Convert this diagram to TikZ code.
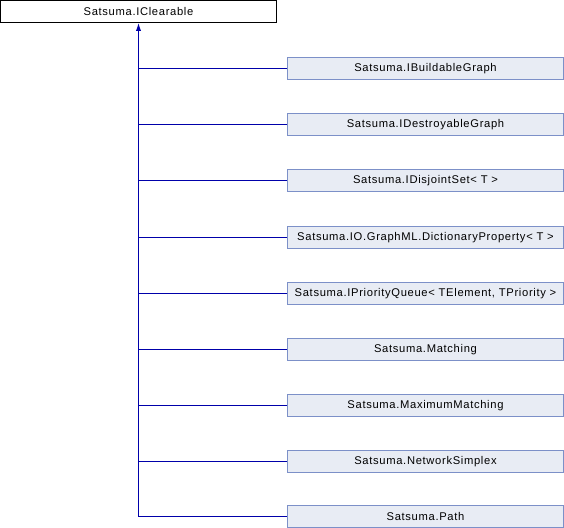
\documentclass[tikz,border=0pt]{standalone}
\usepackage{fontspec}
\setmainfont{Liberation Sans}[LetterSpace=6]
\usetikzlibrary{arrows.meta}
\definecolor{edgeblue}{RGB}{0,0,170}
\definecolor{boxfill}{RGB}{232,236,244}
\definecolor{boxline}{RGB}{124,144,200}
\definecolor{cornergray}{RGB}{150,160,180}
\begin{document}
\begin{tikzpicture}[x=0.75pt,y=-0.75pt,
  rootbox/.style={draw=black,fill=white,minimum width=276*0.75pt,minimum height=22*0.75pt,inner sep=0pt,font=\fontsize{8.4pt}{10pt}\selectfont,line width=0.75pt},
  childbox/.style={draw=boxline,fill=boxfill,minimum width=276*0.75pt,minimum height=22*0.75pt,inner sep=0pt,font=\fontsize{8.4pt}{10pt}\selectfont,line width=0.75pt,
    append after command={\pgfextra{\fill[cornergray] ([xshift=-1pt,yshift=1pt]\tikzlastnode.south east) -- ++(0,3.5pt) -- ++(-3.5pt,-3.5pt) -- cycle;}}},
  connline/.style={color=edgeblue,line width=0.75pt}]
\useasboundingbox (0,0) rectangle (564,528);
\node[rootbox] (root) at (138.5,11.5) {Satsuma.IClearable};
\node[childbox] (c1) at (425.5,68.5) {Satsuma.IBuildableGraph};
\node[childbox] (c2) at (425.5,124.5) {Satsuma.IDestroyableGraph};
\node[childbox] (c3) at (425.5,180.5) {Satsuma.IDisjointSet< T >};
\node[childbox] (c4) at (425.5,237.5) {Satsuma.IO.GraphML.DictionaryProperty< T >};
\node[childbox] (c5) at (425.5,293.5) {Satsuma.IPriorityQueue< TElement, TPriority >};
\node[childbox] (c6) at (425.5,349.5) {Satsuma.Matching};
\node[childbox] (c7) at (425.5,405.5) {Satsuma.MaximumMatching};
\node[childbox] (c8) at (425.5,461.5) {Satsuma.NetworkSimplex};
\node[childbox] (c9) at (425.5,516.5) {Satsuma.Path};
\coordinate (bottom) at (138.5,516.5);
\draw[connline,-{Latex[length=6pt,width=4pt]}] (bottom) -- (root.south);
\draw[connline] (c1.west) -- (c1.west -| root.south);
\draw[connline] (c2.west) -- (c2.west -| root.south);
\draw[connline] (c3.west) -- (c3.west -| root.south);
\draw[connline] (c4.west) -- (c4.west -| root.south);
\draw[connline] (c5.west) -- (c5.west -| root.south);
\draw[connline] (c6.west) -- (c6.west -| root.south);
\draw[connline] (c7.west) -- (c7.west -| root.south);
\draw[connline] (c8.west) -- (c8.west -| root.south);
\draw[connline] (c9.west) -- (c9.west -| root.south);
\end{tikzpicture}
\end{document}
